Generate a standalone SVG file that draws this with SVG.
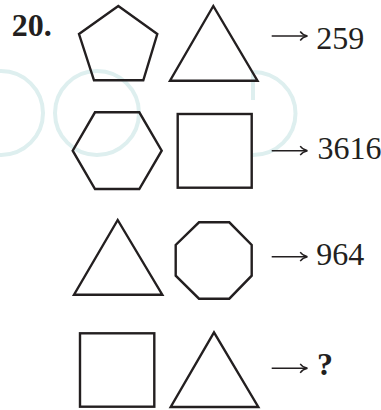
<svg xmlns="http://www.w3.org/2000/svg" xmlns:xlink="http://www.w3.org/1999/xlink" width="381" height="410" viewBox="0 0 381 410">
<style>
.sh{fill:none;stroke:#231f20;stroke-width:2.4;stroke-linejoin:miter}
.num{font-family:"Liberation Serif","Times New Roman",serif;font-size:32px;fill:#231f20}
.b{font-weight:bold}
.arr{fill:none;stroke:#231f20;stroke-width:1.4}
.wm{fill:none;stroke:#deefef;stroke-width:4}
</style>
<defs>
<g id="arrow">
<line x1="0" y1="0" x2="35" y2="0" class="arr"/>
<path d="M28.5,-4.5 Q31,-0.9 35.8,0 Q31,0.9 28.5,4.5" class="arr" stroke-width="1.2"/>
</g>
</defs>
<rect width="381" height="410" fill="#ffffff"/>
<g id="watermark">
<circle cx="1" cy="113" r="42" class="wm"/>
<circle cx="97" cy="113" r="42" class="wm"/>
<path d="M253,72 V100 M253,72 A42,41 0 0 1 253,155" class="wm"/>
</g>
<text id="label" class="num b" x="11.7" y="36">20.</text>
<g id="pentagon1"><polygon class="sh" points="118.3,6 157.3,34 143.3,80.3 94,80.3 79,34"/></g>
<g id="triangle1"><polygon class="sh" points="213.3,6 257.5,80.7 170,80.7"/></g>
<g id="hexagon2"><polygon class="sh" points="95,112.3 139.3,112.3 161.7,150.7 139.3,189 95,189 72.7,150.7"/></g>
<g id="square2"><rect class="sh" x="177.7" y="114" width="74" height="73.7"/></g>
<g id="triangle3"><polygon class="sh" points="117.7,220 162.3,294.7 74,294.7"/></g>
<g id="octagon3"><polygon class="sh" points="199,222.3 229.3,222.3 251.7,245 251.7,275.7 229.3,298.7 199,298.7 175.7,275.7 175.7,245"/></g>
<g id="square4"><rect class="sh" x="80" y="333.3" width="74.3" height="73.4"/></g>
<g id="triangle4"><polygon class="sh" points="214,332.3 258.3,407 170.7,407"/></g>
<g id="connectors">
<use xlink:href="#arrow" x="271.7" y="36"/>
<use xlink:href="#arrow" x="271.7" y="150.7"/>
<use xlink:href="#arrow" x="271.7" y="256.7"/>
<use xlink:href="#arrow" x="271.7" y="368.3"/>
</g>
<g id="result1"><text class="num" x="316.3" y="49.3">259</text></g>
<g id="result2"><text class="num" x="317.5" y="158.5">3616</text></g>
<g id="result3"><text class="num" x="316.3" y="265">964</text></g>
<g id="result4"><text class="num b" x="317" y="375">?</text></g>
</svg>
